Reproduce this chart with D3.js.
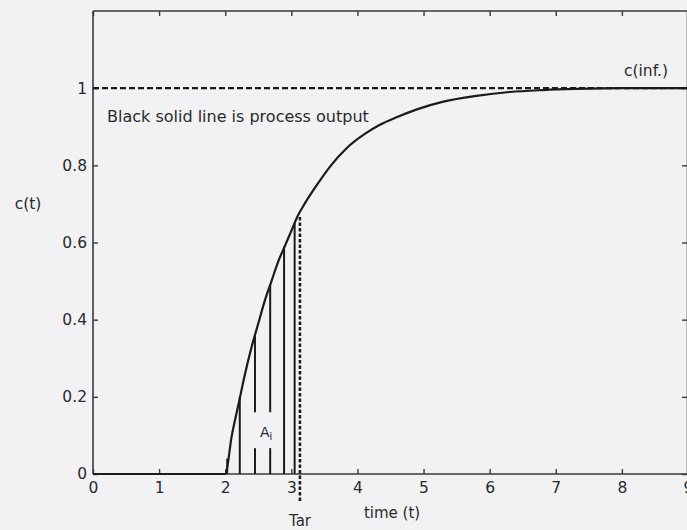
<!DOCTYPE html>
<html>
<head>
<meta charset="utf-8">
<script src="https://cdn.jsdelivr.net/npm/d3@7"></script>
<style>
  html, body { margin: 0; padding: 0; background: #f2f2f4; }
  svg { display: block; font-family: "DejaVu Sans", Verdana, sans-serif; }
</style>
</head>
<body>
<svg id="chart" width="687" height="530"></svg>
<script>
// Process output c(t) of a first-order-plus-dead-time response
const timeValues = [0, 1.97, 2.0, 2.1, 2.2, 2.3, 2.4, 2.5, 2.6, 2.7, 2.8, 2.9, 3.0, 3.1, 3.2, 3.33, 3.45, 3.6, 3.84, 4.1, 4.34, 4.6, 4.9, 5.3, 5.8, 6.3, 6.8, 7.3, 8.0, 9.0];
const outputValues = [0, 0, 0.0, 0.10, 0.18, 0.26, 0.33, 0.39, 0.45, 0.50, 0.55, 0.59, 0.63, 0.67, 0.70, 0.735, 0.765, 0.80, 0.845, 0.88, 0.905, 0.925, 0.945, 0.965, 0.98, 0.99, 0.995, 0.998, 1.0, 1.0];

// Area strips under the curve (A_i)
const stripTimes = [2.03, 2.22, 2.45, 2.68, 2.89, 3.05];
const stripTops = [0.04, 0.20, 0.36, 0.49, 0.59, 0.65];
const labelGap = [0.067, 0.16];   // strips broken around the A_i label
const gappedStrips = [2.45, 2.68];

// Final value and the average residence time marker
const finalValue = 1.0;
const tarTime = 3.13;
const tarTop = 0.67;
const tarBottom = -0.07;

const xTicks = [0, 1, 2, 3, 4, 5, 6, 7, 8, 9];
const yTicks = [0, 0.2, 0.4, 0.6, 0.8, 1];
const yTickLabels = ["0", "0.2", "0.4", "0.6", "0.8", "1"];

const svg = d3.select("#chart");
const plotLeft = 93, plotRight = 688, plotTop = 11, plotBottom = 474;

const x = d3.scaleLinear().domain([0, 9]).range([plotLeft, plotRight]);
const y = d3.scaleLinear().domain([0, 1.2]).range([plotBottom, plotTop]);

const ink = "#1b1b1b";
const axisInk = "#3a3a3a";
const textInk = "#2a2a2a";

// Axes: ticks point inward on all four sides
const tickLen = 5;
const gBottom = svg.append("g").attr("transform", `translate(0,${plotBottom})`)
  .call(d3.axisBottom(x).tickValues(xTicks).tickSizeInner(-tickLen).tickSizeOuter(0).tickPadding(8).tickFormat(d3.format("d")));
const gTop = svg.append("g").attr("transform", `translate(0,${plotTop})`)
  .call(d3.axisTop(x).tickValues(xTicks).tickSizeInner(-tickLen).tickSizeOuter(0).tickFormat(""));
const gLeft = svg.append("g").attr("transform", `translate(${plotLeft},0)`)
  .call(d3.axisLeft(y).tickValues(yTicks).tickSizeInner(-tickLen).tickSizeOuter(0).tickPadding(6).tickFormat((d, i) => yTickLabels[i]));
const gRight = svg.append("g").attr("transform", `translate(${plotRight - 1},0)`)
  .call(d3.axisRight(y).tickValues(yTicks).tickSizeInner(-tickLen).tickSizeOuter(0).tickFormat(""));

[gBottom, gTop, gLeft, gRight].forEach(g => {
  g.attr("font-family", null).attr("font-size", null);
  g.select(".domain").attr("stroke", axisInk).attr("stroke-width", 1.6);
  g.selectAll(".tick line").attr("stroke", axisInk).attr("stroke-width", 1.4);
  g.selectAll(".tick text").attr("fill", textInk).style("font-size", "15.5px");
});
gLeft.select(".domain").attr("d", `M0,${plotBottom}V${plotTop}`);
gBottom.select(".domain").attr("d", `M${plotLeft},0H${plotRight}`);
gTop.select(".domain").attr("d", `M${plotLeft},0H${plotRight}`);

// Dashed line at the final value
svg.append("line")
  .attr("x1", x(0)).attr("x2", x(9))
  .attr("y1", y(finalValue)).attr("y2", y(finalValue))
  .attr("stroke", ink).attr("stroke-width", 2.2).attr("stroke-dasharray", "6,3");

// Strips under the curve
stripTimes.forEach((t, i) => {
  const segs = gappedStrips.includes(t)
    ? [[0, labelGap[0]], [labelGap[1], stripTops[i]]]
    : [[0, stripTops[i]]];
  segs.forEach(s => {
    svg.append("line")
      .attr("x1", x(t)).attr("x2", x(t))
      .attr("y1", y(s[0])).attr("y2", y(s[1]))
      .attr("stroke", ink).attr("stroke-width", 2);
  });
});

// Tar marker
svg.append("line")
  .attr("x1", x(tarTime)).attr("x2", x(tarTime))
  .attr("y1", y(tarBottom)).attr("y2", y(tarTop))
  .attr("stroke", ink).attr("stroke-width", 2.6).attr("stroke-dasharray", "3.5,2");

// Process output curve
const line = d3.line().x((d, i) => x(timeValues[i])).y(d => y(d)).curve(d3.curveMonotoneX);
svg.append("path")
  .datum(outputValues)
  .attr("d", line)
  .attr("fill", "none").attr("stroke", ink).attr("stroke-width", 2.2);

// Labels
svg.append("text").attr("x", 107).attr("y", 122)
  .style("font-size", "16px").attr("fill", textInk)
  .text("Black solid line is process output");
svg.append("text").attr("x", 646).attr("y", 76).attr("text-anchor", "middle")
  .style("font-size", "15.5px").attr("fill", textInk)
  .text("c(inf.)");
svg.append("text").attr("x", 28).attr("y", 209).attr("text-anchor", "middle")
  .style("font-size", "15.5px").attr("fill", textInk)
  .text("c(t)");
svg.append("text").attr("x", 392).attr("y", 518).attr("text-anchor", "middle")
  .style("font-size", "15px").attr("fill", textInk)
  .text("time (t)");
svg.append("text").attr("x", 300).attr("y", 526).attr("text-anchor", "middle")
  .style("font-size", "15px").attr("fill", textInk)
  .text("Tar");
const aLabel = svg.append("text").attr("x", 260).attr("y", 437)
  .style("font-size", "14px").attr("fill", textInk);
aLabel.append("tspan").text("A");
aLabel.append("tspan").attr("dy", 3).style("font-size", "10px").text("i");
</script>
</body>
</html>
